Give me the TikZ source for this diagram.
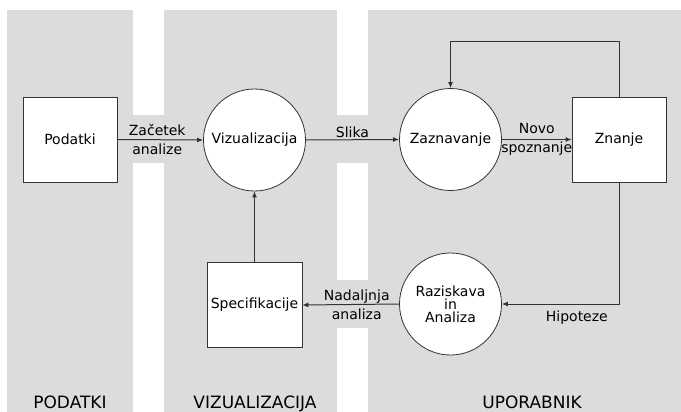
\documentclass[tikz,border=0pt]{standalone}
\usepackage{fontspec}
\setmainfont{DejaVu Sans}
\usetikzlibrary{arrows.meta}
\definecolor{lane}{HTML}{DCDCDC}
\definecolor{ink}{HTML}{333333}
\tikzset{
  lanefill/.style={fill=lane, draw=none},
  boxnode/.style={draw=ink, line width=0.8pt, fill=white, rectangle,
    minimum width=94pt, minimum height=85pt, inner sep=0pt,
    font=\fontsize{14}{15}\selectfont},
  circnode/.style={draw=ink, line width=0.8pt, fill=white, circle,
    minimum size=102pt, inner sep=0pt, align=center,
    font=\fontsize{14}{13}\selectfont},
  flow/.style={draw=ink, line width=1pt, -{Latex[length=6pt,width=5pt]}},
  flowlbl/.style={align=center, inner sep=2pt, text=black,
    font=\fontsize{14}{19}\selectfont},
  lanetitle/.style={anchor=base, font=\fontsize{17}{20}\selectfont}
}
\begin{document}
\begin{tikzpicture}[x=1pt, y=-1pt]
\useasboundingbox (0,0) rectangle (681,412);
% swim lanes and the bridges joining them
\fill[lanefill] (7,10) rectangle (133,412);
\fill[lanefill] (164,10) rectangle (337,412);
\fill[lanefill] (368,10) rectangle (681,412);
\fill[lanefill] (133,115) rectangle (164,163);
\fill[lanefill] (337,115) rectangle (368,163);
\fill[lanefill] (337,280) rectangle (368,328);

% nodes
\node[boxnode]  (podatki) at (70,139.5)   {Podatki};
\node[circnode] (viz)     at (254.5,140)  {Vizualizacija};
\node[circnode] (zazn)    at (450.5,139.5){Zaznavanje};
\node[boxnode]  (znanje)  at (619,139.5)  {Znanje};
\node[circnode] (razisk)  at (450.5,304)  {Raziskava\\in\\Analiza};
\node[boxnode, minimum width=95pt] (spec) at (254.5,305) {Specifikacije};

% connectors
\draw[flow] (podatki.east) -- node[flowlbl, xshift=-3pt]{Začetek\\analize} (viz.west);
\draw[flow] (viz.east) -- node[flowlbl, above]{Slika} (zazn.west);
\draw[flow] (zazn.east) -- node[flowlbl]{Novo\\spoznanje} (znanje.west);
\draw[flow] (znanje.north) -- ++(0,-55) -| (zazn.north);
\draw[flow] (znanje.south) |- node[flowlbl, below, pos=0.68, yshift=-4pt]{Hipoteze} (razisk.east);
\draw[flow] (razisk.west) -- node[flowlbl, xshift=6pt]{Nadaljnja\\analiza} (spec.east);
\draw[flow] (spec.north) -- (viz.south);

% lane titles
\node[lanetitle] (t1) at (70,408)  {PODATKI};
\node[lanetitle] (t2) at (255,408) {VIZUALIZACIJA};
\node[lanetitle] (t3) at (532,408) {UPORABNIK};
\end{tikzpicture}
\end{document}
